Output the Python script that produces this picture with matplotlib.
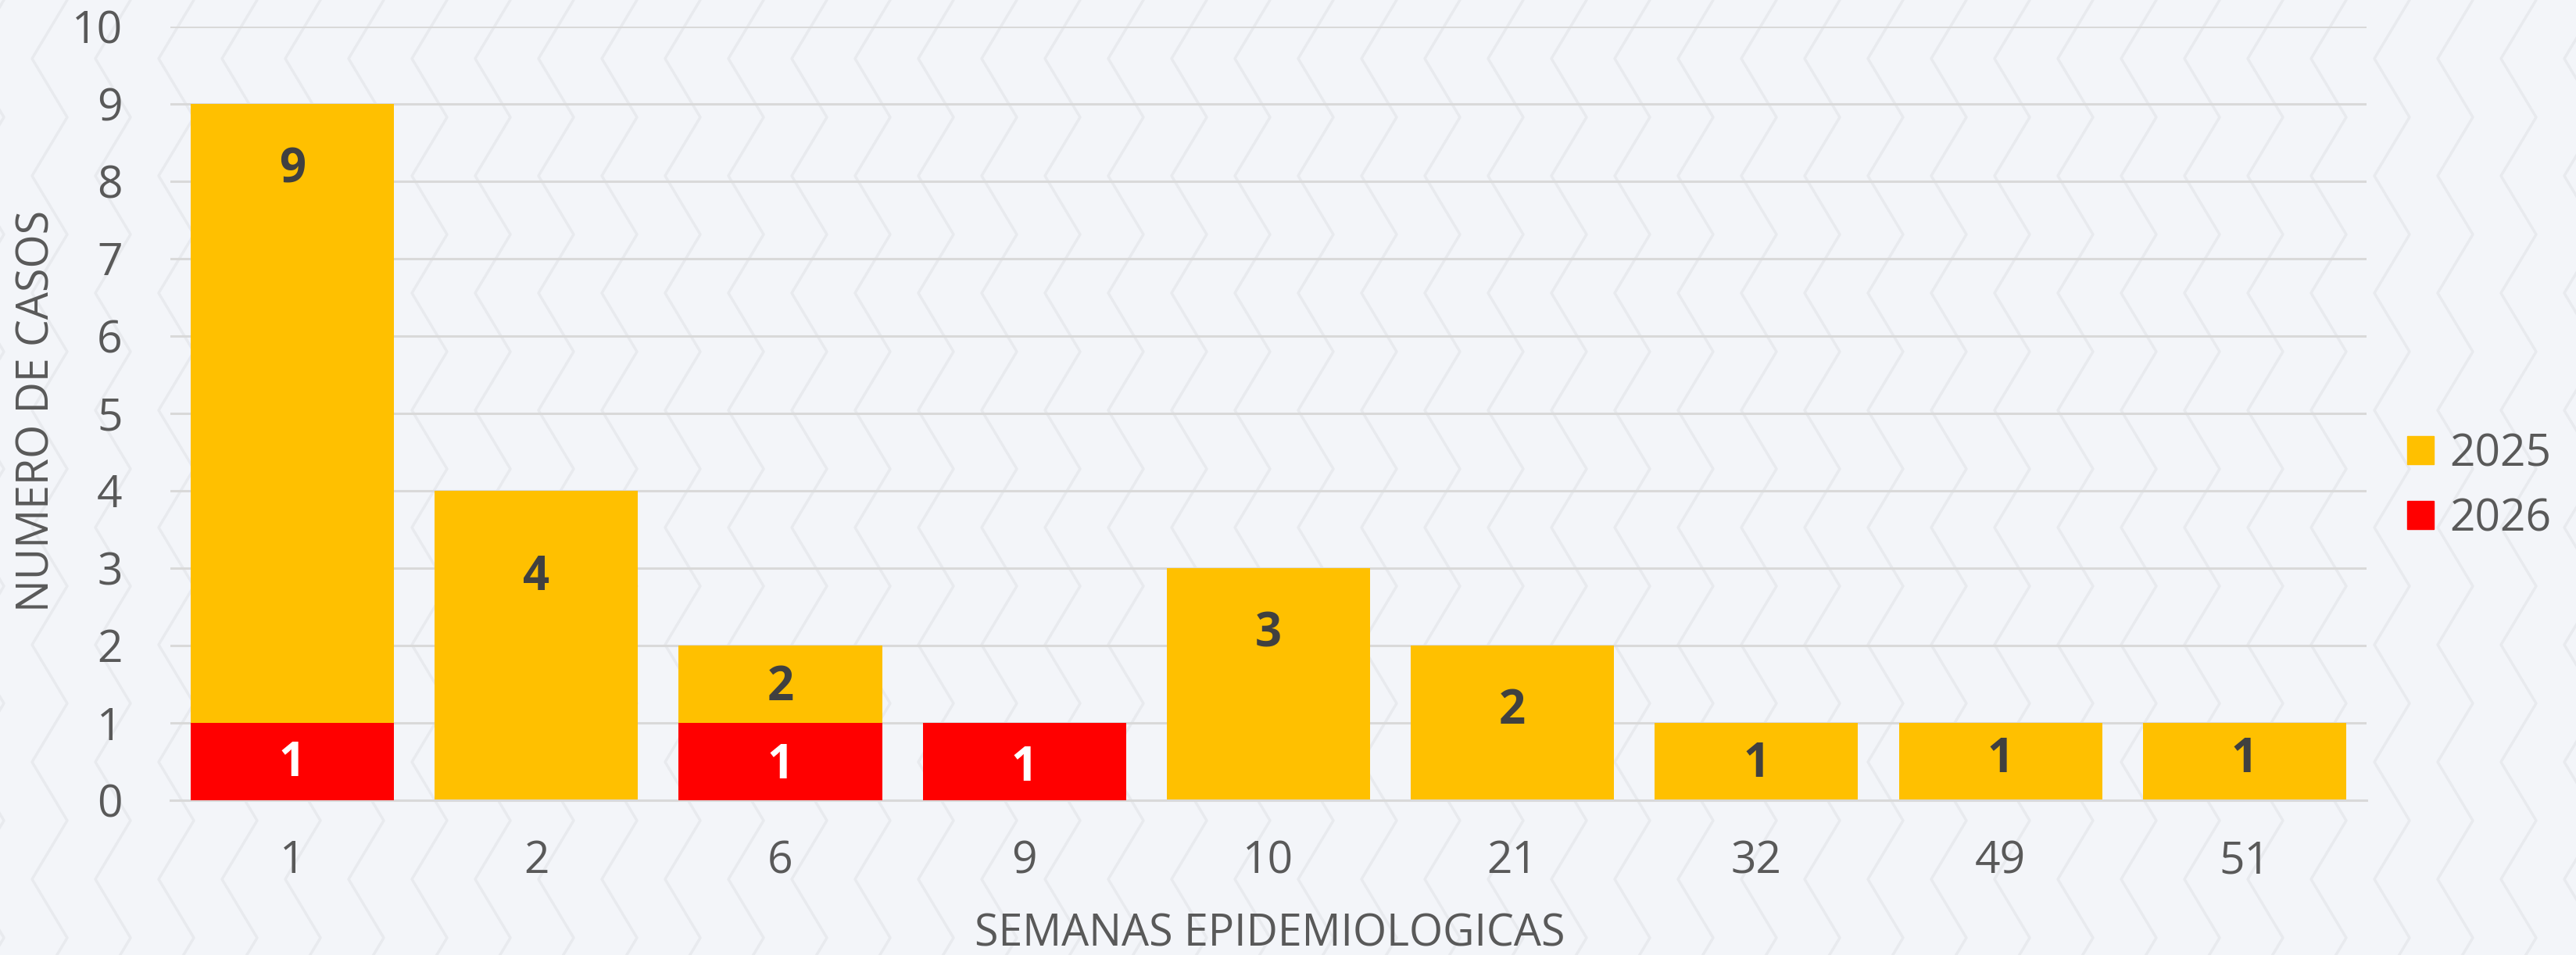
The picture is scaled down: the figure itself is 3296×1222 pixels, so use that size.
import numpy as np
import matplotlib.pyplot as plt
from matplotlib.patches import Patch
from matplotlib.lines import Line2D

plt.rcParams['font.family'] = ['Open Sans', 'DejaVu Sans']

# datos
semanas = ['1', '2', '6', '9', '10', '21', '32', '49', '51']
casos_2025 = [9, 4, 2, 0, 3, 2, 1, 1, 1]
casos_2026 = [1, 0, 1, 1, 0, 0, 0, 0, 0]

# altura donde va cada etiqueta (como en el original)
pos_lbl_2025 = [8.14, 2.87, 1.45, 0, 2.14, 1.15, 0.46, 0.52, 0.52]
pos_lbl_2026 = [0.47, 0, 0.44, 0.41, 0, 0, 0, 0, 0]

amarillo = '#FFC000'
rojo = '#FF0000'
gris = '#595959'
fondo = '#F3F5F9'

W, H = 3296, 1222
fig = plt.figure(figsize=(W / 100, H / 100), dpi=100)
fig.patch.set_facecolor(fondo)

# textura de fondo (zigzag suave)
ys = np.arange(-75, H + 150, 75)
for x0 in np.arange(-40, W + 80, 81):
    xs = x0 + 45 * (np.arange(len(ys)) % 2)
    fig.add_artist(Line2D(xs / W, 1 - ys / H, color='#E8EAEE', lw=2.5,
                          zorder=-5, transform=fig.transFigure))

ax = fig.add_axes([0.0661, 0.162, 0.8526, 0.8103])
ax.set_facecolor('none')

x = np.arange(len(semanas))
ancho = 0.833
ax.bar(x, casos_2025, width=ancho, color=amarillo, zorder=2, label='2025')
ax.bar(x, casos_2026, width=ancho, color=rojo, zorder=3, label='2026')

for i in range(len(semanas)):
    if casos_2025[i] > 0:
        ax.text(x[i], pos_lbl_2025[i], str(casos_2025[i]), ha='center', va='center',
                fontsize=43, fontweight='bold', color='#404040', zorder=4)
    if casos_2026[i] > 0:
        ax.text(x[i], pos_lbl_2026[i], str(casos_2026[i]), ha='center', va='center',
                fontsize=43, fontweight='bold', color='white', zorder=4)

ax.set_xlim(-0.5, len(semanas) - 0.5)
ax.set_ylim(0, 10)
ax.set_yticks(range(0, 11))
ax.set_xticks(x)
ax.set_xticklabels(semanas)
ax.yaxis.grid(True, color='#D9D9D9', linewidth=2.2, zorder=0)
ax.set_axisbelow(True)
for s in ['top', 'right', 'left']:
    ax.spines[s].set_visible(False)
ax.spines['bottom'].set_color('#D9D9D9')
ax.spines['bottom'].set_linewidth(2.2)
ax.tick_params(axis='both', length=0, labelsize=41, colors=gris)
ax.tick_params(axis='y', pad=44)
ax.tick_params(axis='x', pad=36)

fig.text(0.0146, 0.57, 'NUMERO DE CASOS', rotation=90, ha='center', va='center',
         fontsize=40, color=gris)
fig.text(0.493, 0.021, 'SEMANAS EPIDEMIOLOGICAS', ha='center', va='center',
         fontsize=40, color=gris)

handles = [Patch(color=amarillo, label='2025'), Patch(color=rojo, label='2026')]
fig.legend(handles=handles, loc='center left', bbox_to_anchor=(0.919, 0.49),
           frameon=False, fontsize=41, labelcolor=gris, handlelength=0.6,
           handleheight=0.6, handletextpad=0.35, labelspacing=0.45)

plt.savefig('out.png', dpi=100, facecolor=fondo)
